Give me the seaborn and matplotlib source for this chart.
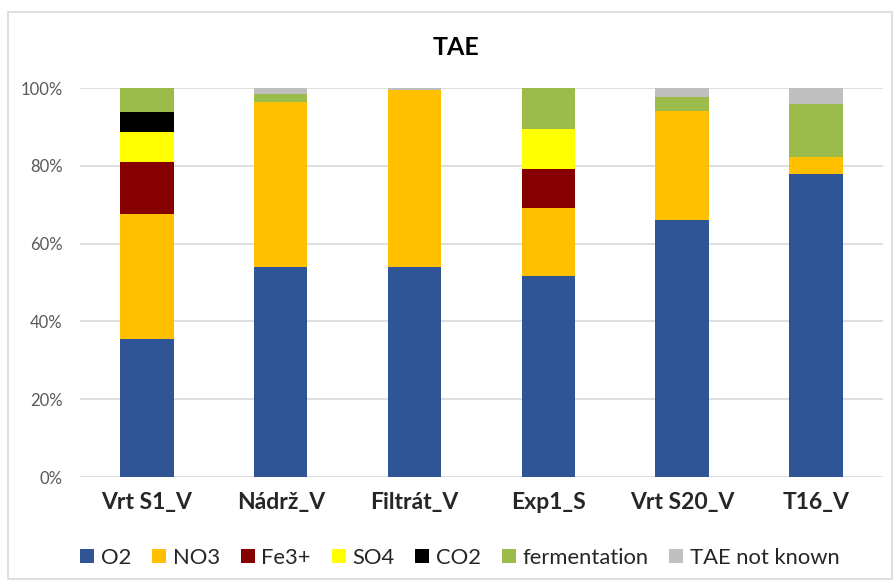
import matplotlib
matplotlib.use("Agg")
import matplotlib.pyplot as plt
from matplotlib.patches import Patch, Rectangle
import numpy as np
import pandas as pd
import seaborn as sns

# Share of terminal electron acceptors per sample (percent of total)
samples = ["Vrt S1_V", "Nádrž_V", "Filtrát_V", "Exp1_S", "Vrt S20_V", "T16_V"]
o2 = [35.4, 53.9, 53.9, 51.6, 66.0, 77.9]
no3 = [32.1, 42.4, 45.5, 17.5, 28.1, 4.3]
fe3 = [13.4, 0.0, 0.0, 10.1, 0.0, 0.0]
so4 = [7.8, 0.0, 0.0, 10.3, 0.0, 0.0]
co2 = [5.1, 0.0, 0.0, 0.0, 0.0, 0.0]
fermentation = [6.2, 2.1, 0.0, 10.5, 3.5, 13.6]
not_known = [0.0, 1.6, 0.6, 0.0, 2.4, 4.2]

series_names = ["O2", "NO3", "Fe3+", "SO4", "CO2", "fermentation", "TAE not known"]
series_values = [o2, no3, fe3, so4, co2, fermentation, not_known]
series_colors = ["#2F5597", "#FFC000", "#870000", "#FFFF00", "#000000", "#9BBB4B", "#BFBFBF"]

sns.set_theme(style="white")
plt.rcParams["font.family"] = ["Lato", "DejaVu Sans"]

df = pd.DataFrame(dict(zip(series_names, series_values)), index=samples)
cum = df.cumsum(axis=1)

fig = plt.figure(figsize=(8.93, 5.81), dpi=100)
ax = fig.add_axes([0.0896, 0.179, 0.899, 0.6695])

# Stack by overdrawing cumulative totals, tallest first
for name, color in reversed(list(zip(series_names, series_colors))):
    sns.barplot(x=list(cum.index), y=cum[name].values, color=color,
                width=0.4, ax=ax, saturation=1, edgecolor="none",
                linewidth=0, zorder=3)

ax.set_ylim(0, 100)
ax.set_xlim(-0.5, len(samples) - 0.5)
ax.set_yticks(np.arange(0, 101, 20))
ax.set_yticklabels([f"{v}%" for v in range(0, 101, 20)], fontsize=12, color="#595959")
ax.set_xticks(range(len(samples)))
ax.set_xticklabels(samples, fontsize=16.5, fontweight="bold", color="#262626")
ax.tick_params(axis="y", length=0, pad=12.5)
ax.tick_params(axis="x", length=0, pad=11)
ax.grid(axis="y", color="#D9D9D9", linewidth=1.2, zorder=0)
ax.set_axisbelow(True)
for s in ax.spines.values():
    s.set_visible(False)
ax.set_xlabel("")
ax.set_ylabel("")

fig.text(0.511, 0.918, "TAE", ha="center", va="center", fontsize=18,
         fontweight="bold", color="#000000")

handles = [Patch(facecolor=c, edgecolor="none", label=n)
           for n, c in zip(series_names, series_colors)]
fig.legend(handles=handles, loc="center", bbox_to_anchor=(0.515, 0.04),
           ncol=7, frameon=False, fontsize=15.8, handlelength=0.64,
           handleheight=0.64, handletextpad=0.3, columnspacing=0.95,
           labelcolor="#262626")

# Outer chart border
fig.patches.append(Rectangle((0.009, 0.004), 0.99, 0.975, transform=fig.transFigure,
                             fill=False, edgecolor="#D9D9D9", linewidth=1.2))

fig.savefig("out.png", dpi=100, facecolor="white")
